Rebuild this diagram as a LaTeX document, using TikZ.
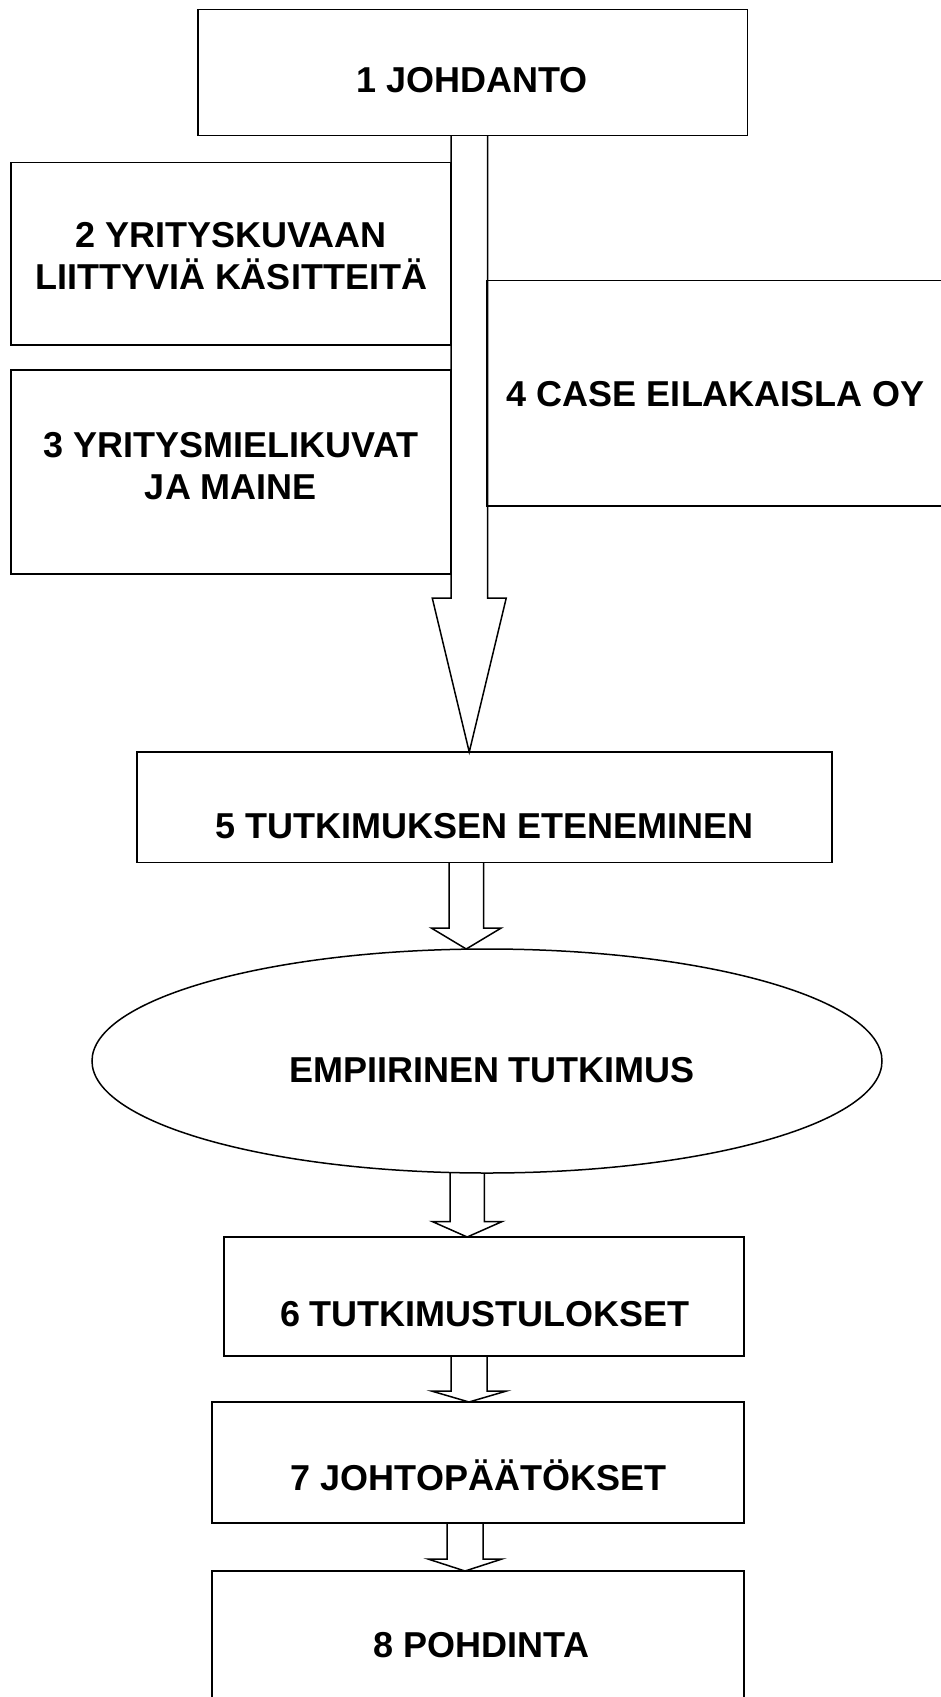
\documentclass[tikz,border=0pt]{standalone}
\usepackage{fontspec}
\setmainfont{Liberation Sans}
\usetikzlibrary{calc,shapes.geometric}

\tikzset{
  box/.style={draw, line width=1.5pt, inner sep=0pt, outer sep=0pt},
  oval/.style={ellipse, draw, line width=1.5pt, inner sep=0pt, outer sep=0pt},
  lbl/.style={anchor=base, inner sep=0pt, font=\bfseries\fontsize{36}{41}\selectfont},
  hollow/.style={draw, line width=1.5pt, line join=miter},
}

% Outline block arrow: #1 x-position coordinate, #2 start anchor, #3 tip anchor,
% #4 shaft half width, #5 head half width, #6 head length
\newcommand{\blockarrow}[6]{%
  \draw[hollow] ($(#1 |- #2)+(-#4,0)$) -- ($(#1 |- #3)+(-#4,-#6)$)
    -- ($(#1 |- #3)+(-#5,-#6)$) -- (#1 |- #3) -- ($(#1 |- #3)+(#5,-#6)$)
    -- ($(#1 |- #3)+(#4,-#6)$) -- ($(#1 |- #2)+(#4,0)$);}

\begin{document}
\begin{tikzpicture}[x=1pt, y=-1pt]
  \useasboundingbox (0,0) rectangle (941,1697);
  \clip (0,0) rectangle (941,1697);

  % chapter boxes
  \node[box, minimum width=549.5, minimum height=126] (b1) at (472.75,72.5) {};
  \node[box, minimum width=440, minimum height=182.5] (b2) at (231,253.75) {};
  \node[box, minimum width=440, minimum height=204] (b3) at (231,472) {};
  \node[box, minimum width=459, minimum height=225.5] (b4) at (716.5,393.25) {};
  \node[box, minimum width=695, minimum height=110.5] (b5) at (484.5,807.25) {};
  \node[oval, minimum width=790, minimum height=224] (emp) at (487,1061) {};
  \node[box, minimum width=520, minimum height=119] (b6) at (484,1296.5) {};
  \node[box, minimum width=532, minimum height=121] (b7) at (478,1462.5) {};
  \node[box, minimum width=532, minimum height=159] (b8) at (478,1650.5) {};

  % texts
  \node[lbl] (t1) at (472,92) {1 JOHDANTO};
  \node[lbl] (t2a) at (231,247) {2 YRITYSKUVAAN};
  \node[lbl] (t2b) at (231,289) {LIITTYVIÄ KÄSITTEITÄ};
  \node[lbl] (t3a) at (231,457) {3 YRITYSMIELIKUVAT};
  \node[lbl] (t3b) at (231,499) {JA MAINE};
  \node[lbl] (t4) at (716,406) {4 CASE EILAKAISLA OY};
  \node[lbl] (t5) at (484.5,838) {5 TUTKIMUKSEN ETENEMINEN};
  \node[lbl] (te) at (492,1082) {EMPIIRINEN TUTKIMUS};
  \node[lbl] (t6) at (485,1326) {6 TUTKIMUSTULOKSET};
  \node[lbl] (t7) at (478.5,1490) {7 JOHTOPÄÄTÖKSET};
  \node[lbl] (t8) at (481.5,1657) {8 POHDINTA};

  % arrow axes
  \coordinate (x0) at (469.25,0);
  \coordinate (x1) at (466.25,0);
  \coordinate (x2) at (467.2,0);
  \coordinate (x3) at (469,0);
  \coordinate (x4) at (465,0);

  % flow arrows
  \blockarrow{x0}{b1.south}{b5.north}{18.25}{37}{154}
  \blockarrow{x1}{b5.south}{emp.north}{17.25}{35}{21}
  \blockarrow{x2}{emp.south}{b6.north}{17.2}{35}{15.5}
  \blockarrow{x3}{b6.south}{b7.north}{18}{37.5}{11}
  \blockarrow{x4}{b7.south}{b8.north}{18}{37}{12}
\end{tikzpicture}
\end{document}
